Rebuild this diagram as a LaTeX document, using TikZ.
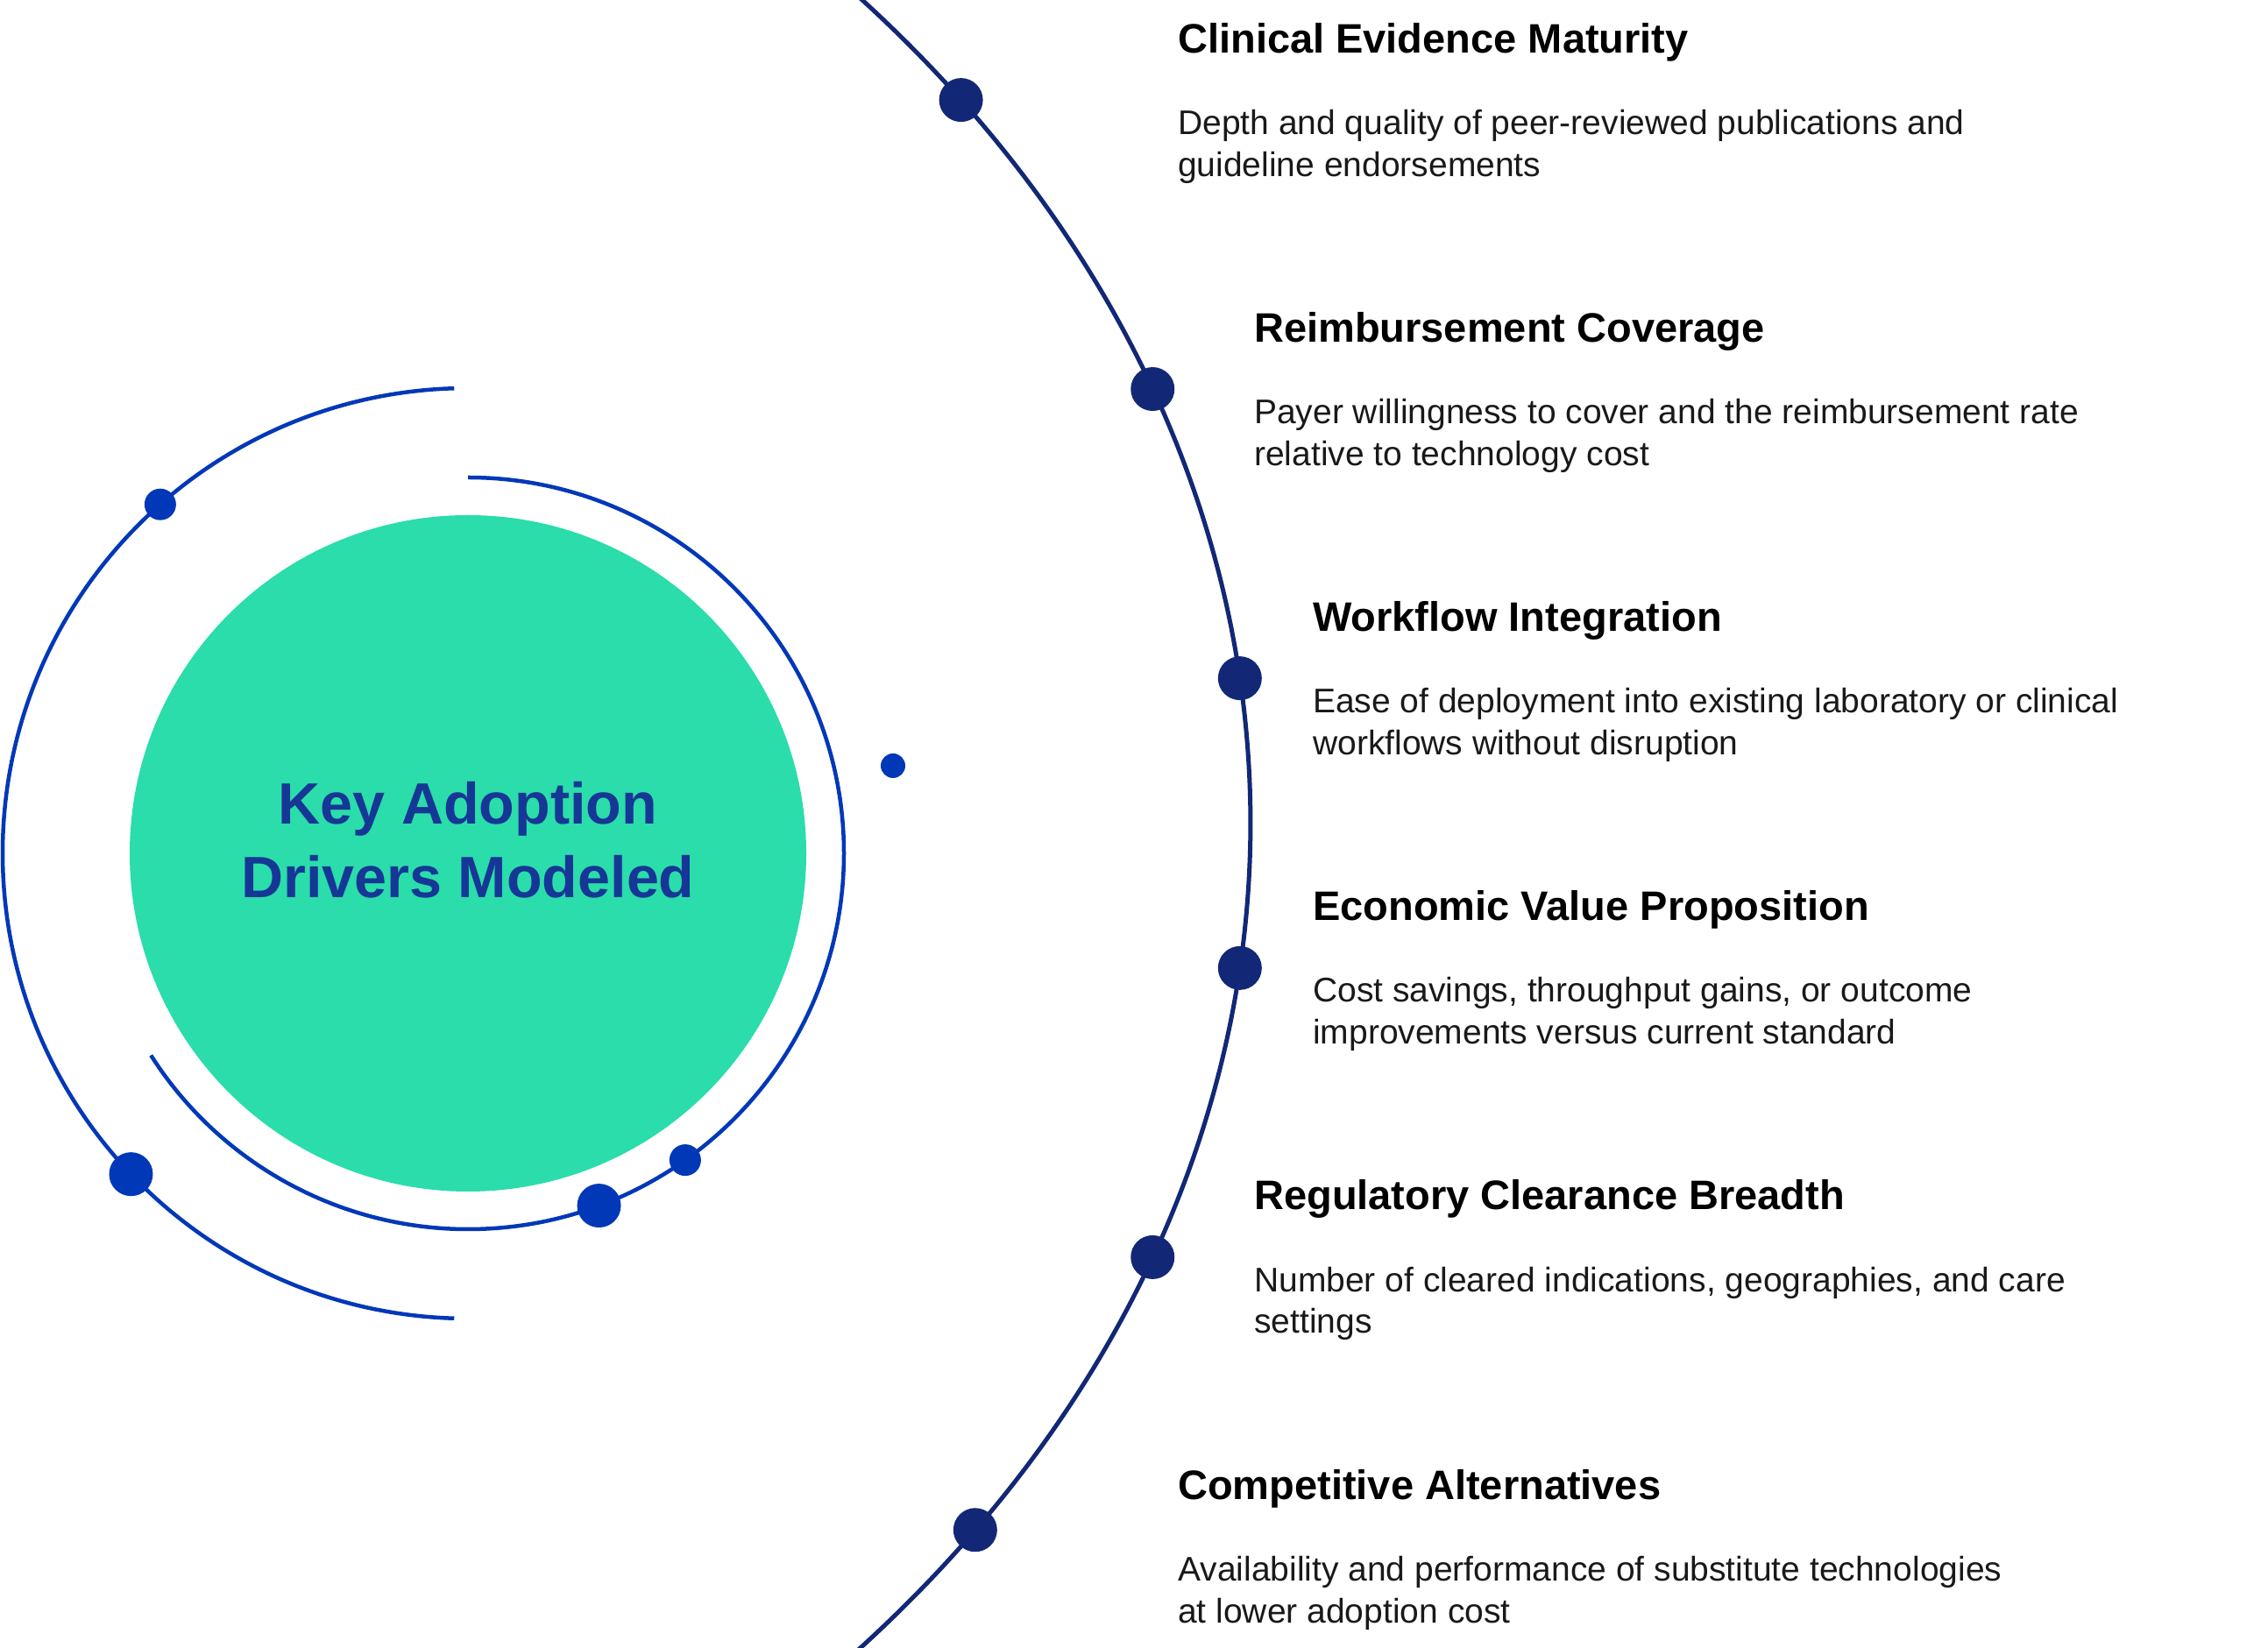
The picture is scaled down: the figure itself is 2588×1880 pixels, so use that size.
\documentclass[tikz,border=0pt]{standalone}
\usepackage{fontspec}
\setmainfont{Liberation Sans}
\usepackage{tikz}
\usetikzlibrary{positioning, calc}
\definecolor{mint}{RGB}{42,221,170}
\definecolor{navy}{RGB}{18,40,118}
\definecolor{royal}{RGB}{0,56,184}
\definecolor{hubtext}{RGB}{22,55,150}
\definecolor{bodytext}{RGB}{25,25,25}
\tikzstyle{orbit} = [line width=4.5pt, draw=royal]
\tikzstyle{spine} = [line width=5pt, draw=navy]
\tikzstyle{bigdot} = [circle, fill=navy, inner sep=0pt, minimum size=50pt]
\tikzstyle{ringdot} = [circle, fill=royal, inner sep=0pt, minimum size=50pt]
\tikzstyle{smalldot} = [circle, fill=royal, inner sep=0pt, minimum size=36pt]
\tikzstyle{driver} = [anchor=base west, inner sep=0pt, font=\fontsize{47}{56}\selectfont\bfseries]
\tikzstyle{detail} = [anchor=base west, inner sep=0pt, align=left, text=bodytext, font=\fontsize{39}{48}\selectfont]

\begin{document}
\begin{tikzpicture}[x=1pt, y=1pt]
\useasboundingbox (0,0) rectangle (2588,1880);

% Hub
\coordinate (hub) at (534,906);
\node (core) [circle, fill=mint, minimum size=772pt, inner sep=0pt] at (hub) {};
\node (hubname) [align=center, text=hubtext, inner sep=0pt, anchor=base, font=\fontsize{66.5}{84}\selectfont\bfseries] at (534,855) {Key Adoption\\Drivers Modeled};

% Orbits
\draw [orbit] ([shift={(90:429)}]hub) arc[start angle=90, end angle=-147.5, radius=429];
\draw [orbit] ([shift={(91.7:531)}]hub) arc[start angle=91.7, end angle=268.3, radius=531];
\node (o1) [smalldot] at ([shift={(131.4:531)}]hub) {};
\node (o2) [ringdot] at ([shift={(223.6:531)}]hub) {};
\node (i1) [ringdot] at ([shift={(-69.6:429)}]hub) {};
\node (i2) [smalldot] at ([shift={(-54.7:429)}]hub) {};
\node (spark) [circle, fill=royal, inner sep=0pt, minimum size=28pt] at (1019,1006) {};

% Spine
\coordinate (focus) at (-400,940.5);
\draw [spine] ([shift={(-42:1827 and 1439)}]focus) arc[start angle=-42, end angle=42, x radius=1827, y radius=1439];
\foreach \ang [count=\i] in {35, 20.14, 6.6, -6.6, -20.14, -34.1}
  \node (d\i) [bigdot] at ([shift={(\ang:1827 and 1439)}]focus) {};

% Drivers
\node (h1) [driver] at (1344,1819) {Clinical Evidence Maturity};
\node (p1) [detail] at ([yshift=-141]h1.base west) {Depth and quality of peer-reviewed publications and\\guideline endorsements};

\node (h2) [driver] at (1431,1489) {Reimbursement Coverage};
\node (p2) [detail] at ([yshift=-141]h2.base west) {Payer willingness to cover and the reimbursement rate\\relative to technology cost};

\node (h3) [driver] at (1498,1159) {Workflow Integration};
\node (p3) [detail] at ([yshift=-141]h3.base west) {Ease of deployment into existing laboratory or clinical\\workflows without disruption};

\node (h4) [driver] at (1498,829) {Economic Value Proposition};
\node (p4) [detail] at ([yshift=-141]h4.base west) {Cost savings, throughput gains, or outcome\\improvements versus current standard};

\node (h5) [driver] at (1431,499) {Regulatory Clearance Breadth};
\node (p5) [detail] at ([yshift=-141]h5.base west) {Number of cleared indications, geographies, and care\\settings};

\node (h6) [driver] at (1344,169) {Competitive Alternatives};
\node (p6) [detail] at ([yshift=-141]h6.base west) {Availability and performance of substitute technologies\\at lower adoption cost};

\end{tikzpicture}
\end{document}
